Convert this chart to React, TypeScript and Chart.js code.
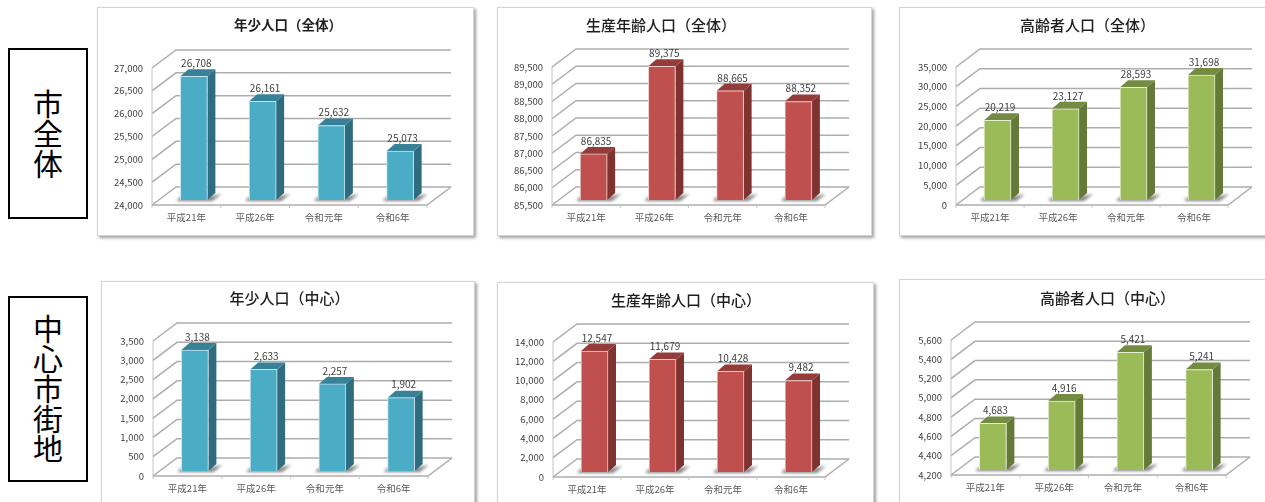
import React, { useEffect, useRef } from "react";
import { Chart, registerables } from "chart.js";

Chart.register(...registerables);

const FONT = '"Noto Sans CJK JP", "Noto Sans", sans-serif';

const categories = ["平成21年", "平成26年", "令和元年", "令和6年"];

const youthCity = [26708, 26161, 25632, 25073];
const workingCity = [86835, 89375, 88665, 88352];
const elderlyCity = [20219, 23127, 28593, 31698];
const youthCentral = [3138, 2633, 2257, 1902];
const workingCentral = [12547, 11679, 10428, 9482];
const elderlyCentral = [4683, 4916, 5421, 5241];

const BLUE = { front: "#4BACC6", side: "#2F6C80", top: "#378298", edge: "#C5E3EC" };
const RED = { front: "#C0504D", side: "#7F3331", top: "#953B39", edge: "#EBCFCE" };
const GREEN = { front: "#9BBB59", side: "#647A38", top: "#738C42", edge: "#E6EFD3" };

type Palette = typeof BLUE;
type Panel = {
  title: string;
  values: number[];
  min: number;
  max: number;
  step: number;
  palette: Palette;
  box: [number, number, number, number];
  plot: [number, number, number, number];
  titleX: number;
  titleY: number;
  titleSize: number;
  titleWeight: string;
};

const panels: Panel[] = [
  { title: "年少人口（全体）", values: youthCity, min: 24000, max: 27000, step: 500, palette: BLUE, box: [98, 8, 375, 227], plot: [152, 427, 68, 205], titleX: 288, titleY: 25, titleSize: 13.5, titleWeight: "bold" },
  { title: "生産年齢人口（全体）", values: workingCity, min: 85500, max: 89500, step: 500, palette: RED, box: [498, 8, 373, 227], plot: [552, 825, 67, 205], titleX: 661, titleY: 25, titleSize: 15, titleWeight: "500" },
  { title: "高齢者人口（全体）", values: elderlyCity, min: 0, max: 35000, step: 5000, palette: GREEN, box: [900, 8, 375, 227], plot: [956, 1228, 67, 205], titleX: 1087.5, titleY: 25, titleSize: 15, titleWeight: "500" },
  { title: "年少人口（中心）", values: youthCentral, min: 0, max: 3500, step: 500, palette: BLUE, box: [102, 282, 372, 230], plot: [153, 428, 341, 476], titleX: 289.5, titleY: 298, titleSize: 15, titleWeight: "500" },
  { title: "生産年齢人口（中心）", values: workingCentral, min: 0, max: 14000, step: 2000, palette: RED, box: [498, 283, 375, 229], plot: [553, 825, 342, 477], titleX: 686, titleY: 300, titleSize: 15, titleWeight: "500" },
  { title: "高齢者人口（中心）", values: elderlyCentral, min: 4200, max: 5600, step: 200, palette: GREEN, box: [900, 280, 375, 232], plot: [951, 1226, 340, 475], titleX: 1107.5, titleY: 298, titleSize: 15, titleWeight: "500" },
];

const formatCount = (v: number) => v.toLocaleString("en-US");

// Projection used for the pseudo-3D look: wall depth, bar inset from the front plane, bar depth.
const WALL = { dx: 24, dy: -18 };
const INSET = { dx: 7.5, dy: -5 };
const DEPTH = { dx: 8, dy: -7 };

const polygon = (ctx: CanvasRenderingContext2D, pts: number[][], fill: string) => {
  ctx.beginPath();
  pts.forEach(([x, y], i) => (i ? ctx.lineTo(x, y) : ctx.moveTo(x, y)));
  ctx.closePath();
  ctx.fillStyle = fill;
  ctx.fill();
};

const makeBox3d = (panel: Panel) => ({
  id: "box3d",
  beforeDatasetsDraw(chart: any) {
    const { ctx, chartArea: a, scales } = chart;
    const palette = panel.palette;
    ctx.save();
    ctx.strokeStyle = "#ADADAD";
    ctx.lineWidth = 1.5;
    const path = (pts: number[][]) => {
      ctx.beginPath();
      pts.forEach(([x, y]: number[], i: number) => (i ? ctx.lineTo(x, y) : ctx.moveTo(x, y)));
      ctx.stroke();
    };
    scales.y.ticks.forEach((_: unknown, i: number) => {
      const y = scales.y.getPixelForTick(i);
      path([[a.left, y], [a.left + WALL.dx, y + WALL.dy], [a.right + WALL.dx, y + WALL.dy]]);
    });
    path([[a.left, a.bottom], [a.right, a.bottom], [a.right + WALL.dx, a.bottom + WALL.dy]]);
    ctx.lineWidth = 1;
    ctx.strokeStyle = "#C4C4C4";
    path([[a.left, a.top], [a.left, a.bottom]]);
    // tick marks under the floor edge
    for (let i = 0; i <= categories.length; i++) {
      const x = a.left + (i * a.width) / categories.length;
      path([[x, a.bottom], [x, a.bottom + 3]]);
    }
    ctx.restore();

    const bars = chart.getDatasetMeta(0).data;
    bars.forEach((bar: any) => {
      const l = bar.x - bar.width / 2 + INSET.dx;
      const r = bar.x + bar.width / 2 + INSET.dx;
      const t = bar.y + INSET.dy;
      const b = bar.base + INSET.dy;
      // soft contact shadow on the floor
      ctx.save();
      ctx.filter = "blur(1.5px)";
      polygon(ctx, [[l - 4, b + 1], [r + 5, b + 1], [r + DEPTH.dx + 6, b + DEPTH.dy + 1], [r, b - 3], [l, b - 3]], "rgba(80,80,80,0.7)");
      ctx.restore();
      // side and top faces of the column
      polygon(ctx, [[r, t], [r + DEPTH.dx, t + DEPTH.dy], [r + DEPTH.dx, b + DEPTH.dy], [r, b]], palette.side);
      polygon(ctx, [[l, t], [l + DEPTH.dx, t + DEPTH.dy], [r + DEPTH.dx, t + DEPTH.dy], [r, t]], palette.top);
    });
    ctx.save();
    ctx.translate(INSET.dx, INSET.dy);
  },
  afterDatasetsDraw(chart: any) {
    const { ctx } = chart;
    ctx.restore();
    const values = chart.data.datasets[0].data;
    ctx.save();
    ctx.font = `10px ${FONT}`;
    ctx.fillStyle = "#404040";
    ctx.textAlign = "center";
    ctx.textBaseline = "middle";
    chart.getDatasetMeta(0).data.forEach((bar: any, i: number) => {
      ctx.fillText(formatCount(values[i]), bar.x + INSET.dx + 2.5, bar.y + INSET.dy - 13);
    });
    // chart heading, placed independently of the plot's centre
    ctx.font = `${panel.titleWeight} ${panel.titleSize}px ${FONT}`;
    ctx.fillStyle = "#1F1F1F";
    ctx.fillText(panel.title, panel.titleX - panel.box[0], panel.titleY - panel.box[1]);
    ctx.restore();
  },
});

function PanelChart({ panel }: { panel: Panel }) {
  const ref = useRef<HTMLCanvasElement>(null);
  useEffect(() => {
    const [bx, by, bw, bh] = panel.box;
    const [pl, pr, pt, pb] = panel.plot;
    const chart = new Chart(ref.current as HTMLCanvasElement, {
      type: "bar",
      data: {
        labels: categories,
        datasets: [
          {
            data: panel.values,
            base: panel.min,
            backgroundColor: panel.palette.front,
            borderColor: panel.palette.edge,
            borderWidth: 1,
            barThickness: 27,
            clip: false as any,
          },
        ],
      },
      plugins: [makeBox3d(panel)],
      options: {
        animation: false,
        responsive: false,
        layout: { padding: { left: 0, top: pt - by, bottom: 0, right: bx + bw - pr } },
        plugins: {
          legend: { display: false },
          tooltip: { enabled: false },
          title: { display: false },
        },
        scales: {
          x: {
            grid: { display: false, drawTicks: false },
            border: { display: false },
            ticks: { color: "#595959", font: { family: FONT, size: 9.5 }, padding: 7, maxRotation: 0 },
            afterFit: (s: any) => {
              s.height = by + bh - pb;
            },
          },
          y: {
            min: panel.min,
            max: panel.max,
            grid: { display: false, drawTicks: false },
            border: { display: false },
            ticks: {
              stepSize: panel.step,
              color: "#404040",
              font: { family: FONT, size: 9.5 },
              padding: 9,
              callback: (v: any) => formatCount(Number(v)),
            },
            afterFit: (s: any) => {
              s.width = pl - bx;
            },
          },
        },
      },
    });
    return () => chart.destroy();
  }, [panel]);
  const [x, y, w, h] = panel.box;
  return (
    <div
      style={{
        position: "absolute",
        left: x,
        top: y,
        width: w,
        height: h,
        background: "#fff",
        boxShadow: "0 0 0 1px #d4d4d4, 2px 2px 3px 1px #a0a0a0",
      }}
    >
      <canvas ref={ref} width={w} height={h} style={{ display: "block" }} />
    </div>
  );
}

function SideLabel({ text, left, top, width, height }: { text: string; left: number; top: number; width: number; height: number }) {
  return (
    <div
      style={{
        position: "absolute",
        left,
        top,
        width,
        height,
        boxSizing: "border-box",
        border: "2px solid #000",
        background: "#fff",
        display: "flex",
        alignItems: "center",
        justifyContent: "center",
        writingMode: "vertical-rl",
        fontFamily: FONT,
        fontSize: 30,
        lineHeight: 1,
        color: "#000",
      }}
    >
      {text}
    </div>
  );
}

export default function App() {
  return (
    <div style={{ position: "absolute", left: 0, top: 0, width: 1265, height: 502, overflow: "hidden", background: "#fff" }}>
      <SideLabel text="市全体" left={8} top={48} width={80} height={171} />
      <SideLabel text="中心市街地" left={8} top={296} width={80} height={186} />
      {panels.map((p) => (
        <PanelChart key={p.title} panel={p} />
      ))}
    </div>
  );
}
